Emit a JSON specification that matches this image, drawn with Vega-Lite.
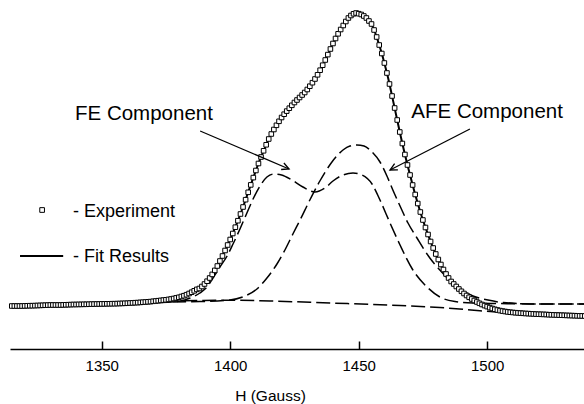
{
"$schema":"https://vega.github.io/schema/vega-lite/v6.json",
"width":574,"height":349,
"autosize":{"type":"none"},
"padding":{"left":10,"top":0,"right":0,"bottom":55},
"background":"white",
"config":{"view":{"stroke":null},"font":"Liberation Sans"},
"datasets":{
"exp":[
{"h":1315,"v":43.0},{"h":1316,"v":43.0},{"h":1317,"v":43.0},{"h":1318,"v":43.0},{"h":1319,"v":43.0},{"h":1320,"v":43.1},{"h":1321,"v":43.2},{"h":1322,"v":43.3},{"h":1323,"v":43.3},{"h":1324,"v":43.4},
{"h":1325,"v":43.5},{"h":1326,"v":43.6},{"h":1327,"v":43.7},{"h":1328,"v":43.8},{"h":1329,"v":43.9},{"h":1330,"v":44.0},{"h":1331,"v":44.0},{"h":1332,"v":44.0},{"h":1333,"v":44.0},{"h":1334,"v":44.0},
{"h":1335,"v":44.1},{"h":1336,"v":44.2},{"h":1337,"v":44.3},{"h":1338,"v":44.4},{"h":1339,"v":44.5},{"h":1340,"v":44.5},{"h":1341,"v":44.6},{"h":1342,"v":44.6},{"h":1343,"v":44.7},{"h":1344,"v":44.7},
{"h":1345,"v":44.8},{"h":1346,"v":44.9},{"h":1347,"v":44.9},{"h":1348,"v":45.0},{"h":1349,"v":45.0},{"h":1350,"v":45.1},{"h":1351,"v":45.1},{"h":1352,"v":45.2},{"h":1353,"v":45.2},{"h":1354,"v":45.3},
{"h":1355,"v":45.3},{"h":1356,"v":45.4},{"h":1357,"v":45.5},{"h":1358,"v":45.6},{"h":1359,"v":45.7},{"h":1360,"v":45.8},{"h":1361,"v":46.0},{"h":1362,"v":46.1},{"h":1363,"v":46.3},{"h":1364,"v":46.4},
{"h":1365,"v":46.6},{"h":1366,"v":46.8},{"h":1367,"v":47.0},{"h":1368,"v":47.2},{"h":1369,"v":47.4},{"h":1370,"v":47.7},{"h":1371,"v":48.0},{"h":1372,"v":48.3},{"h":1373,"v":48.6},{"h":1374,"v":48.9},
{"h":1375,"v":49.2},{"h":1376,"v":49.6},{"h":1377,"v":50.0},{"h":1378,"v":50.5},{"h":1379,"v":51.1},{"h":1380,"v":51.7},{"h":1381,"v":52.5},{"h":1382,"v":53.3},{"h":1383,"v":54.3},{"h":1384,"v":55.5},
{"h":1385,"v":56.8},{"h":1386,"v":58.2},{"h":1387,"v":59.6},{"h":1388,"v":60.5},{"h":1389,"v":62.5},{"h":1390,"v":65.0},{"h":1391,"v":67.8},{"h":1392,"v":71.0},{"h":1393,"v":74.6},{"h":1394,"v":78.6},
{"h":1395,"v":83.0},{"h":1396,"v":88.0},{"h":1397,"v":93.0},{"h":1398,"v":98.5},{"h":1399,"v":104.0},{"h":1400,"v":109.5},{"h":1401,"v":115.5},{"h":1402,"v":121.8},{"h":1403,"v":128.3},{"h":1404,"v":135.0},
{"h":1405,"v":142.0},{"h":1406,"v":149.3},{"h":1407,"v":156.7},{"h":1408,"v":164.1},{"h":1409,"v":171.4},{"h":1410,"v":178.5},{"h":1411,"v":185.5},{"h":1412,"v":192.0},{"h":1413,"v":198.2},{"h":1414,"v":204.2},
{"h":1415,"v":210.0},{"h":1416,"v":215.0},{"h":1417,"v":219.5},{"h":1418,"v":223.7},{"h":1419,"v":227.7},{"h":1420,"v":231.5},{"h":1421,"v":234.8},{"h":1422,"v":237.9},{"h":1423,"v":240.8},{"h":1424,"v":243.7},
{"h":1425,"v":246.5},{"h":1426,"v":249.0},{"h":1427,"v":251.5},{"h":1428,"v":254.0},{"h":1429,"v":256.5},{"h":1430,"v":259.5},{"h":1431,"v":262.8},{"h":1432,"v":266.3},{"h":1433,"v":270.0},{"h":1434,"v":274.2},
{"h":1435,"v":278.8},{"h":1436,"v":283.8},{"h":1437,"v":289.0},{"h":1438,"v":294.4},{"h":1439,"v":300.0},{"h":1440,"v":305.5},{"h":1441,"v":310.5},{"h":1442,"v":315.2},{"h":1443,"v":319.5},{"h":1444,"v":323.5},
{"h":1445,"v":327.5},{"h":1446,"v":331.0},{"h":1447,"v":333.5},{"h":1448,"v":335.2},{"h":1449,"v":336.0},{"h":1450,"v":335.3},{"h":1451,"v":334.5},{"h":1452,"v":333.0},{"h":1453,"v":331.0},{"h":1454,"v":328.0},
{"h":1455,"v":325.0},{"h":1456,"v":319.0},{"h":1457,"v":312.0},{"h":1458,"v":304.0},{"h":1459,"v":295.5},{"h":1460,"v":286.0},{"h":1461,"v":276.0},{"h":1462,"v":265.0},{"h":1463,"v":253.0},{"h":1464,"v":241.0},
{"h":1465,"v":229.0},{"h":1466,"v":217.0},{"h":1467,"v":205.5},{"h":1468,"v":194.5},{"h":1469,"v":184.0},{"h":1470,"v":174.0},{"h":1471,"v":164.0},{"h":1472,"v":154.5},{"h":1473,"v":145.5},{"h":1474,"v":137.0},
{"h":1475,"v":129.0},{"h":1476,"v":121.5},{"h":1477,"v":114.5},{"h":1478,"v":107.5},{"h":1479,"v":101.0},{"h":1480,"v":95.0},{"h":1481,"v":89.5},{"h":1482,"v":84.5},{"h":1483,"v":79.5},{"h":1484,"v":75.0},
{"h":1485,"v":71.0},{"h":1486,"v":67.5},{"h":1487,"v":65.0},{"h":1488,"v":62.5},{"h":1489,"v":60.0},{"h":1490,"v":57.7},{"h":1491,"v":55.5},{"h":1492,"v":53.5},{"h":1493,"v":51.7},{"h":1494,"v":50.0},
{"h":1495,"v":48.5},{"h":1496,"v":47.0},{"h":1497,"v":45.7},{"h":1498,"v":44.5},{"h":1499,"v":43.4},{"h":1500,"v":42.4},{"h":1501,"v":41.4},{"h":1502,"v":40.5},{"h":1503,"v":39.7},{"h":1504,"v":39.0},
{"h":1505,"v":38.4},{"h":1506,"v":37.9},{"h":1507,"v":37.5},{"h":1508,"v":37.1},{"h":1509,"v":36.8},{"h":1510,"v":36.5},{"h":1511,"v":36.3},{"h":1512,"v":36.1},{"h":1513,"v":35.9},{"h":1514,"v":35.7},
{"h":1515,"v":35.5},{"h":1516,"v":35.4},{"h":1517,"v":35.2},{"h":1518,"v":35.1},{"h":1519,"v":34.9},{"h":1520,"v":34.8},{"h":1521,"v":34.7},{"h":1522,"v":34.6},{"h":1523,"v":34.5},{"h":1524,"v":34.3},
{"h":1525,"v":34.2},{"h":1526,"v":34.1},{"h":1527,"v":34.0},{"h":1528,"v":33.9},{"h":1529,"v":33.8},{"h":1530,"v":33.7},{"h":1531,"v":33.6},{"h":1532,"v":33.5},{"h":1533,"v":33.4},{"h":1534,"v":33.3},
{"h":1535,"v":33.2},{"h":1536,"v":33.1},{"h":1537,"v":33.1},{"h":1538,"v":33.0}
],
"comp":[
{"c":"FE","h":1357.1,"v":45.7},{"c":"FE","h":1372.7,"v":46.5},{"c":"FE","h":1380.5,"v":48},{"c":"FE","h":1384.4,"v":51},{"c":"FE","h":1388.2,"v":56},{"c":"FE","h":1391.0,"v":62},{"c":"FE","h":1393.3,"v":71},{"c":"FE","h":1396.0,"v":82},{"c":"FE","h":1398.8,"v":93},{"c":"FE","h":1401.1,"v":105},{"c":"FE","h":1403.8,"v":120},{"c":"FE","h":1406.5,"v":136},{"c":"FE","h":1408.9,"v":150},{"c":"FE","h":1411.6,"v":163},{"c":"FE","h":1414.3,"v":172},{"c":"FE","h":1417.0,"v":175},{"c":"FE","h":1420.0,"v":174},{"c":"FE","h":1424.0,"v":169},{"c":"FE","h":1428.3,"v":162},{"c":"FE","h":1433.0,"v":157},{"c":"FE","h":1436.9,"v":161},{"c":"FE","h":1440.0,"v":168},{"c":"FE","h":1443.9,"v":174},{"c":"FE","h":1447.8,"v":176},{"c":"FE","h":1451.3,"v":174},{"c":"FE","h":1455.2,"v":165},{"c":"FE","h":1458.3,"v":149},{"c":"FE","h":1462.2,"v":126},{"c":"FE","h":1466.1,"v":104},{"c":"FE","h":1471.1,"v":79},{"c":"FE","h":1476.6,"v":62},{"c":"FE","h":1481.6,"v":52},{"c":"FE","h":1487.5,"v":47.5},{"c":"FE","h":1494.5,"v":46},{"c":"FE","h":1505.0,"v":45.5},{"c":"FE","h":1520.6,"v":45},{"c":"FE","h":1537.7,"v":45},
{"c":"AFE","h":1370,"v":47},{"c":"AFE","h":1388.2,"v":47.5},{"c":"AFE","h":1399.9,"v":49},{"c":"AFE","h":1405.8,"v":53},{"c":"AFE","h":1410.4,"v":60},{"c":"AFE","h":1414.3,"v":71},{"c":"AFE","h":1418.2,"v":85},{"c":"AFE","h":1421.3,"v":99},{"c":"AFE","h":1424.4,"v":115},{"c":"AFE","h":1427.2,"v":129},{"c":"AFE","h":1431.0,"v":149},{"c":"AFE","h":1434.9,"v":168},{"c":"AFE","h":1439.6,"v":187},{"c":"AFE","h":1443.9,"v":199},{"c":"AFE","h":1446.6,"v":203},{"c":"AFE","h":1449.3,"v":204},{"c":"AFE","h":1452.1,"v":203},{"c":"AFE","h":1455.2,"v":197},{"c":"AFE","h":1458.3,"v":187},{"c":"AFE","h":1461.0,"v":173},{"c":"AFE","h":1463.3,"v":159},{"c":"AFE","h":1466.1,"v":143},{"c":"AFE","h":1469.2,"v":126},{"c":"AFE","h":1472.7,"v":111},{"c":"AFE","h":1477.7,"v":91},{"c":"AFE","h":1481.6,"v":79},{"c":"AFE","h":1485.5,"v":68.5},{"c":"AFE","h":1490.2,"v":59},{"c":"AFE","h":1494.5,"v":53},{"c":"AFE","h":1500.3,"v":49},{"c":"AFE","h":1506.2,"v":46.5},{"c":"AFE","h":1520.6,"v":45},{"c":"AFE","h":1537.7,"v":45},
{"c":"BG","h":1330,"v":44},{"c":"BG","h":1350,"v":45},{"c":"BG","h":1368.8,"v":47.5},{"c":"BG","h":1380.5,"v":48.2},{"c":"BG","h":1388.2,"v":48.5},{"c":"BG","h":1399.9,"v":48.8},{"c":"BG","h":1415.5,"v":48},{"c":"BG","h":1438.8,"v":46},{"c":"BG","h":1466.1,"v":43.5},{"c":"BG","h":1481.6,"v":41.5},{"c":"BG","h":1497.2,"v":38.2},{"c":"BG","h":1505.0,"v":36.7},{"c":"BG","h":1520.6,"v":34.6},{"c":"BG","h":1537.7,"v":33}
],
"arrows":[
{"name":"FE","h":1388.3,"v":218,"h2":1422.9,"v2":180},
{"name":"AFE","h":1493.3,"v":220,"h2":1462.2,"v2":179}
],
"labels":[
{"t":"FE Component","h":1339.6,"v":235},
{"t":"AFE Component","h":1470.5,"v":237}
],
"legendText":[
{"t":"- Experiment","h":1338.8,"v":137},
{"t":"- Fit Results","h":1338.8,"v":92}
],
"legendSym":[{"h":1326.8,"v":139}],
"legendLine":[{"h":1318.2,"h2":1335.0,"v":93}]
},
"layer":[
{"data":{"name":"comp"},
 "mark":{"type":"line","stroke":"black","strokeWidth":1.5,"strokeDash":[14,5],"interpolate":"monotone"},
 "encoding":{
  "x":{"field":"h","type":"quantitative","scale":{"domain":[1314.3,1537.7],"nice":false,"zero":false},
       "axis":{"values":[1350,1400,1450,1500],"format":"d","title":"H (Gauss)","grid":false,
               "domainColor":"black","domainWidth":1.5,"tickColor":"black","tickWidth":1.5,"tickSize":-8,
               "labelPadding":17,"labelFontSize":15,"labelColor":"black","labelFont":"Liberation Sans",
               "titleFontSize":15.5,"titleFontWeight":"normal","titleColor":"black","titleFont":"Liberation Sans",
               "titleX":260,"titleY":46,"titleBaseline":"middle","titleAnchor":"middle"}},
  "y":{"field":"v","type":"quantitative","scale":{"domain":[0,349],"nice":false,"zero":false},"axis":null},
  "detail":{"field":"c"}
 }},
{"data":{"name":"exp"},
 "mark":{"type":"line","stroke":"black","strokeWidth":2,"interpolate":"monotone"},
 "encoding":{
  "x":{"field":"h","type":"quantitative"},
  "y":{"field":"v","type":"quantitative"}
 }},
{"data":{"name":"exp"},
 "mark":{"type":"point","shape":"square","size":21,"filled":false,"fill":"white","fillOpacity":1,"stroke":"black","strokeWidth":1,"opacity":1},
 "encoding":{
  "x":{"field":"h","type":"quantitative"},
  "y":{"field":"v","type":"quantitative"}
 }},
{"data":{"name":"arrows"},
 "mark":{"type":"rule","stroke":"black","strokeWidth":1.3},
 "encoding":{
  "x":{"field":"h","type":"quantitative"},"y":{"field":"v","type":"quantitative"},
  "x2":{"field":"h2"},"y2":{"field":"v2"}
 }},
{"data":{"name":"arrows"},
 "transform":[{"filter":"datum.name==='FE'"}],
 "mark":{"type":"point","shape":"M -1 -0.5 L 0 0 L -1 0.5","size":200,"filled":false,"stroke":"black","strokeWidth":1.3,"angle":23,"opacity":1},
 "encoding":{"x":{"field":"h2","type":"quantitative"},"y":{"field":"v2","type":"quantitative"}}},
{"data":{"name":"arrows"},
 "transform":[{"filter":"datum.name==='AFE'"}],
 "mark":{"type":"point","shape":"M -1 -0.5 L 0 0 L -1 0.5","size":200,"filled":false,"stroke":"black","strokeWidth":1.3,"angle":152,"opacity":1},
 "encoding":{"x":{"field":"h2","type":"quantitative"},"y":{"field":"v2","type":"quantitative"}}},
{"data":{"name":"labels"},
 "mark":{"type":"text","align":"left","baseline":"middle","fontSize":20.5,"font":"Liberation Sans","color":"black"},
 "encoding":{"x":{"field":"h","type":"quantitative"},"y":{"field":"v","type":"quantitative"},"text":{"field":"t"}}},
{"data":{"name":"legendText"},
 "mark":{"type":"text","align":"left","baseline":"middle","fontSize":18,"font":"Liberation Sans","color":"black"},
 "encoding":{"x":{"field":"h","type":"quantitative"},"y":{"field":"v","type":"quantitative"},"text":{"field":"t"}}},
{"data":{"name":"legendSym"},
 "mark":{"type":"point","shape":"square","size":22,"filled":false,"fill":"white","fillOpacity":1,"stroke":"black","strokeWidth":1,"opacity":1},
 "encoding":{"x":{"field":"h","type":"quantitative"},"y":{"field":"v","type":"quantitative"}}},
{"data":{"name":"legendLine"},
 "mark":{"type":"rule","stroke":"black","strokeWidth":2},
 "encoding":{"x":{"field":"h","type":"quantitative"},"x2":{"field":"h2"},"y":{"field":"v","type":"quantitative"}}}
]
}
